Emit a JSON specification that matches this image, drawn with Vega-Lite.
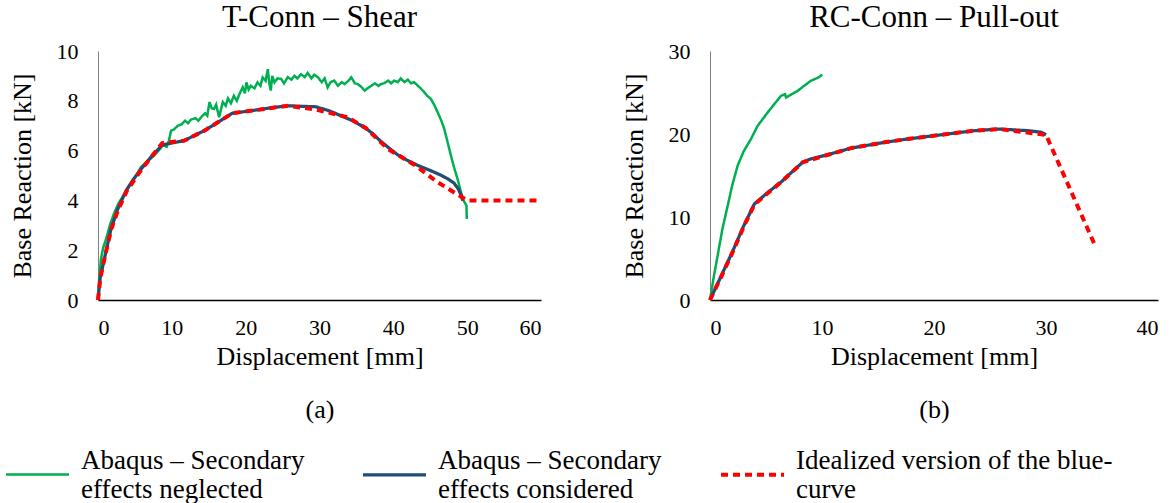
{
  "$schema": "https://vega.github.io/schema/vega-lite/v6.json",
  "padding": {"left": 4, "top": 2, "right": 5, "bottom": 0},
  "config": {
    "font": "Liberation Serif",
    "view": {"stroke": null},
    "axis": {"grid": false, "ticks": false, "labelFont": "Liberation Serif", "labelFontSize": 22, "labelColor": "#000", "titleFont": "Liberation Serif", "titleFontSize": 26, "titleFontWeight": "normal", "titleColor": "#000", "domainColor": "#000", "domainWidth": 1.5},
    "title": {"font": "Liberation Serif", "fontSize": 31, "fontWeight": "normal", "color": "#000", "frame": "group", "anchor": "middle"},
    "legend": {"orient": "none", "legendX": -94, "legendY": 390, "direction": "horizontal", "columns": 3, "title": null, "symbolType": "stroke", "symbolSize": 3969, "symbolStrokeWidth": 3, "labelFont": "Liberation Serif", "labelFontSize": 27, "labelColor": "#000", "labelOffset": 10, "labelBaseline": "bottom", "columnPadding": 51, "labelLimit": 500}
  },
  "data": {"values": [
    {"panel": "a", "series": "Abaqus – Secondary effects neglected", "x": 0, "y": 0},
    {"panel": "a", "series": "Abaqus – Secondary effects neglected", "x": 0.2, "y": 1.0},
    {"panel": "a", "series": "Abaqus – Secondary effects neglected", "x": 0.4, "y": 1.65},
    {"panel": "a", "series": "Abaqus – Secondary effects neglected", "x": 0.7, "y": 2.1},
    {"panel": "a", "series": "Abaqus – Secondary effects neglected", "x": 1.1, "y": 2.45},
    {"panel": "a", "series": "Abaqus – Secondary effects neglected", "x": 1.6, "y": 3.0},
    {"panel": "a", "series": "Abaqus – Secondary effects neglected", "x": 2.2, "y": 3.5},
    {"panel": "a", "series": "Abaqus – Secondary effects neglected", "x": 2.8, "y": 3.9},
    {"panel": "a", "series": "Abaqus – Secondary effects neglected", "x": 3.6, "y": 4.26},
    {"panel": "a", "series": "Abaqus – Secondary effects neglected", "x": 4.5, "y": 4.7},
    {"panel": "a", "series": "Abaqus – Secondary effects neglected", "x": 5.2, "y": 5.0},
    {"panel": "a", "series": "Abaqus – Secondary effects neglected", "x": 5.8, "y": 5.33},
    {"panel": "a", "series": "Abaqus – Secondary effects neglected", "x": 6.6, "y": 5.55},
    {"panel": "a", "series": "Abaqus – Secondary effects neglected", "x": 7.6, "y": 5.8},
    {"panel": "a", "series": "Abaqus – Secondary effects neglected", "x": 8.2, "y": 6.0},
    {"panel": "a", "series": "Abaqus – Secondary effects neglected", "x": 8.8, "y": 6.22},
    {"panel": "a", "series": "Abaqus – Secondary effects neglected", "x": 9.3, "y": 6.15},
    {"panel": "a", "series": "Abaqus – Secondary effects neglected", "x": 9.6, "y": 6.4},
    {"panel": "a", "series": "Abaqus – Secondary effects neglected", "x": 9.9, "y": 6.8},
    {"panel": "a", "series": "Abaqus – Secondary effects neglected", "x": 10.3, "y": 6.85},
    {"panel": "a", "series": "Abaqus – Secondary effects neglected", "x": 10.8, "y": 7.0},
    {"panel": "a", "series": "Abaqus – Secondary effects neglected", "x": 11.3, "y": 7.05},
    {"panel": "a", "series": "Abaqus – Secondary effects neglected", "x": 11.8, "y": 7.2},
    {"panel": "a", "series": "Abaqus – Secondary effects neglected", "x": 12.2, "y": 7.1},
    {"panel": "a", "series": "Abaqus – Secondary effects neglected", "x": 12.6, "y": 7.25},
    {"panel": "a", "series": "Abaqus – Secondary effects neglected", "x": 13.2, "y": 7.3},
    {"panel": "a", "series": "Abaqus – Secondary effects neglected", "x": 13.6, "y": 7.2},
    {"panel": "a", "series": "Abaqus – Secondary effects neglected", "x": 14.0, "y": 7.35},
    {"panel": "a", "series": "Abaqus – Secondary effects neglected", "x": 14.5, "y": 7.5},
    {"panel": "a", "series": "Abaqus – Secondary effects neglected", "x": 14.8, "y": 7.4},
    {"panel": "a", "series": "Abaqus – Secondary effects neglected", "x": 15.1, "y": 7.95},
    {"panel": "a", "series": "Abaqus – Secondary effects neglected", "x": 15.4, "y": 7.7},
    {"panel": "a", "series": "Abaqus – Secondary effects neglected", "x": 15.7, "y": 7.67},
    {"panel": "a", "series": "Abaqus – Secondary effects neglected", "x": 16.0, "y": 7.85},
    {"panel": "a", "series": "Abaqus – Secondary effects neglected", "x": 16.4, "y": 7.34},
    {"panel": "a", "series": "Abaqus – Secondary effects neglected", "x": 16.9, "y": 7.95},
    {"panel": "a", "series": "Abaqus – Secondary effects neglected", "x": 17.3, "y": 7.8},
    {"panel": "a", "series": "Abaqus – Secondary effects neglected", "x": 17.6, "y": 8.1},
    {"panel": "a", "series": "Abaqus – Secondary effects neglected", "x": 18.0, "y": 7.9},
    {"panel": "a", "series": "Abaqus – Secondary effects neglected", "x": 18.4, "y": 8.2},
    {"panel": "a", "series": "Abaqus – Secondary effects neglected", "x": 18.8, "y": 8.0},
    {"panel": "a", "series": "Abaqus – Secondary effects neglected", "x": 19.2, "y": 8.3},
    {"panel": "a", "series": "Abaqus – Secondary effects neglected", "x": 19.6, "y": 8.54},
    {"panel": "a", "series": "Abaqus – Secondary effects neglected", "x": 19.9, "y": 8.3},
    {"panel": "a", "series": "Abaqus – Secondary effects neglected", "x": 20.1, "y": 8.74},
    {"panel": "a", "series": "Abaqus – Secondary effects neglected", "x": 20.4, "y": 8.45},
    {"panel": "a", "series": "Abaqus – Secondary effects neglected", "x": 20.7, "y": 8.6},
    {"panel": "a", "series": "Abaqus – Secondary effects neglected", "x": 21.2, "y": 8.5},
    {"panel": "a", "series": "Abaqus – Secondary effects neglected", "x": 21.6, "y": 8.74},
    {"panel": "a", "series": "Abaqus – Secondary effects neglected", "x": 22.0, "y": 8.6},
    {"panel": "a", "series": "Abaqus – Secondary effects neglected", "x": 22.3, "y": 8.94},
    {"panel": "a", "series": "Abaqus – Secondary effects neglected", "x": 22.7, "y": 8.8},
    {"panel": "a", "series": "Abaqus – Secondary effects neglected", "x": 23.0, "y": 9.27},
    {"panel": "a", "series": "Abaqus – Secondary effects neglected", "x": 23.2, "y": 8.7},
    {"panel": "a", "series": "Abaqus – Secondary effects neglected", "x": 23.4, "y": 8.41},
    {"panel": "a", "series": "Abaqus – Secondary effects neglected", "x": 23.6, "y": 9.0},
    {"panel": "a", "series": "Abaqus – Secondary effects neglected", "x": 23.9, "y": 8.74},
    {"panel": "a", "series": "Abaqus – Secondary effects neglected", "x": 24.3, "y": 8.9},
    {"panel": "a", "series": "Abaqus – Secondary effects neglected", "x": 24.8, "y": 8.88},
    {"panel": "a", "series": "Abaqus – Secondary effects neglected", "x": 25.2, "y": 8.7},
    {"panel": "a", "series": "Abaqus – Secondary effects neglected", "x": 25.7, "y": 8.95},
    {"panel": "a", "series": "Abaqus – Secondary effects neglected", "x": 26.2, "y": 8.85},
    {"panel": "a", "series": "Abaqus – Secondary effects neglected", "x": 26.6, "y": 9.0},
    {"panel": "a", "series": "Abaqus – Secondary effects neglected", "x": 27.0, "y": 8.9},
    {"panel": "a", "series": "Abaqus – Secondary effects neglected", "x": 27.5, "y": 9.07},
    {"panel": "a", "series": "Abaqus – Secondary effects neglected", "x": 28.0, "y": 8.95},
    {"panel": "a", "series": "Abaqus – Secondary effects neglected", "x": 28.4, "y": 9.12},
    {"panel": "a", "series": "Abaqus – Secondary effects neglected", "x": 28.9, "y": 8.9},
    {"panel": "a", "series": "Abaqus – Secondary effects neglected", "x": 29.3, "y": 9.05},
    {"panel": "a", "series": "Abaqus – Secondary effects neglected", "x": 29.8, "y": 8.94},
    {"panel": "a", "series": "Abaqus – Secondary effects neglected", "x": 30.3, "y": 8.75},
    {"panel": "a", "series": "Abaqus – Secondary effects neglected", "x": 30.7, "y": 8.9},
    {"panel": "a", "series": "Abaqus – Secondary effects neglected", "x": 31.1, "y": 8.54},
    {"panel": "a", "series": "Abaqus – Secondary effects neglected", "x": 31.5, "y": 8.75},
    {"panel": "a", "series": "Abaqus – Secondary effects neglected", "x": 32.0, "y": 8.81},
    {"panel": "a", "series": "Abaqus – Secondary effects neglected", "x": 32.5, "y": 8.6},
    {"panel": "a", "series": "Abaqus – Secondary effects neglected", "x": 33.0, "y": 8.75},
    {"panel": "a", "series": "Abaqus – Secondary effects neglected", "x": 33.4, "y": 8.67},
    {"panel": "a", "series": "Abaqus – Secondary effects neglected", "x": 33.9, "y": 8.8},
    {"panel": "a", "series": "Abaqus – Secondary effects neglected", "x": 34.3, "y": 8.94},
    {"panel": "a", "series": "Abaqus – Secondary effects neglected", "x": 34.8, "y": 8.7},
    {"panel": "a", "series": "Abaqus – Secondary effects neglected", "x": 35.2, "y": 8.67},
    {"panel": "a", "series": "Abaqus – Secondary effects neglected", "x": 35.7, "y": 8.55},
    {"panel": "a", "series": "Abaqus – Secondary effects neglected", "x": 36.1, "y": 8.41},
    {"panel": "a", "series": "Abaqus – Secondary effects neglected", "x": 36.5, "y": 8.5},
    {"panel": "a", "series": "Abaqus – Secondary effects neglected", "x": 37.0, "y": 8.6},
    {"panel": "a", "series": "Abaqus – Secondary effects neglected", "x": 37.5, "y": 8.7},
    {"panel": "a", "series": "Abaqus – Secondary effects neglected", "x": 38.0, "y": 8.6},
    {"panel": "a", "series": "Abaqus – Secondary effects neglected", "x": 38.3, "y": 8.67},
    {"panel": "a", "series": "Abaqus – Secondary effects neglected", "x": 38.8, "y": 8.71},
    {"panel": "a", "series": "Abaqus – Secondary effects neglected", "x": 39.3, "y": 8.81},
    {"panel": "a", "series": "Abaqus – Secondary effects neglected", "x": 39.7, "y": 8.7},
    {"panel": "a", "series": "Abaqus – Secondary effects neglected", "x": 40.1, "y": 8.81},
    {"panel": "a", "series": "Abaqus – Secondary effects neglected", "x": 40.6, "y": 8.75},
    {"panel": "a", "series": "Abaqus – Secondary effects neglected", "x": 41.0, "y": 8.9},
    {"panel": "a", "series": "Abaqus – Secondary effects neglected", "x": 41.5, "y": 8.75},
    {"panel": "a", "series": "Abaqus – Secondary effects neglected", "x": 41.96, "y": 8.85},
    {"panel": "a", "series": "Abaqus – Secondary effects neglected", "x": 42.4, "y": 8.7},
    {"panel": "a", "series": "Abaqus – Secondary effects neglected", "x": 42.8, "y": 8.75},
    {"panel": "a", "series": "Abaqus – Secondary effects neglected", "x": 43.3, "y": 8.61},
    {"panel": "a", "series": "Abaqus – Secondary effects neglected", "x": 43.7, "y": 8.5},
    {"panel": "a", "series": "Abaqus – Secondary effects neglected", "x": 44.2, "y": 8.34},
    {"panel": "a", "series": "Abaqus – Secondary effects neglected", "x": 44.6, "y": 8.2},
    {"panel": "a", "series": "Abaqus – Secondary effects neglected", "x": 45.1, "y": 8.07},
    {"panel": "a", "series": "Abaqus – Secondary effects neglected", "x": 45.6, "y": 7.8},
    {"panel": "a", "series": "Abaqus – Secondary effects neglected", "x": 46.0, "y": 7.54},
    {"panel": "a", "series": "Abaqus – Secondary effects neglected", "x": 46.5, "y": 7.2},
    {"panel": "a", "series": "Abaqus – Secondary effects neglected", "x": 46.9, "y": 6.87},
    {"panel": "a", "series": "Abaqus – Secondary effects neglected", "x": 47.3, "y": 6.4},
    {"panel": "a", "series": "Abaqus – Secondary effects neglected", "x": 47.8, "y": 5.8},
    {"panel": "a", "series": "Abaqus – Secondary effects neglected", "x": 48.2, "y": 5.35},
    {"panel": "a", "series": "Abaqus – Secondary effects neglected", "x": 48.7, "y": 4.86},
    {"panel": "a", "series": "Abaqus – Secondary effects neglected", "x": 49.1, "y": 4.4},
    {"panel": "a", "series": "Abaqus – Secondary effects neglected", "x": 49.4, "y": 4.06},
    {"panel": "a", "series": "Abaqus – Secondary effects neglected", "x": 49.7, "y": 3.9},
    {"panel": "a", "series": "Abaqus – Secondary effects neglected", "x": 49.9, "y": 3.79},
    {"panel": "a", "series": "Abaqus – Secondary effects neglected", "x": 49.95, "y": 3.25},
    {"panel": "a", "series": "Abaqus – Secondary effects considered", "x": 0, "y": 0},
    {"panel": "a", "series": "Abaqus – Secondary effects considered", "x": 0.3, "y": 0.9},
    {"panel": "a", "series": "Abaqus – Secondary effects considered", "x": 0.86, "y": 1.65},
    {"panel": "a", "series": "Abaqus – Secondary effects considered", "x": 1.76, "y": 2.85},
    {"panel": "a", "series": "Abaqus – Secondary effects considered", "x": 2.67, "y": 3.65},
    {"panel": "a", "series": "Abaqus – Secondary effects considered", "x": 3.8, "y": 4.39},
    {"panel": "a", "series": "Abaqus – Secondary effects considered", "x": 4.8, "y": 4.85},
    {"panel": "a", "series": "Abaqus – Secondary effects considered", "x": 5.83, "y": 5.26},
    {"panel": "a", "series": "Abaqus – Secondary effects considered", "x": 7.2, "y": 5.75},
    {"panel": "a", "series": "Abaqus – Secondary effects considered", "x": 8.67, "y": 6.22},
    {"panel": "a", "series": "Abaqus – Secondary effects considered", "x": 9.9, "y": 6.3},
    {"panel": "a", "series": "Abaqus – Secondary effects considered", "x": 11.7, "y": 6.4},
    {"panel": "a", "series": "Abaqus – Secondary effects considered", "x": 13.0, "y": 6.6},
    {"panel": "a", "series": "Abaqus – Secondary effects considered", "x": 14.4, "y": 6.8},
    {"panel": "a", "series": "Abaqus – Secondary effects considered", "x": 16.3, "y": 7.15},
    {"panel": "a", "series": "Abaqus – Secondary effects considered", "x": 18.2, "y": 7.5},
    {"panel": "a", "series": "Abaqus – Secondary effects considered", "x": 20.7, "y": 7.6},
    {"panel": "a", "series": "Abaqus – Secondary effects considered", "x": 23.0, "y": 7.7},
    {"panel": "a", "series": "Abaqus – Secondary effects considered", "x": 25.7, "y": 7.8},
    {"panel": "a", "series": "Abaqus – Secondary effects considered", "x": 29.5, "y": 7.76},
    {"panel": "a", "series": "Abaqus – Secondary effects considered", "x": 31.3, "y": 7.6},
    {"panel": "a", "series": "Abaqus – Secondary effects considered", "x": 32.9, "y": 7.4},
    {"panel": "a", "series": "Abaqus – Secondary effects considered", "x": 34.5, "y": 7.2},
    {"panel": "a", "series": "Abaqus – Secondary effects considered", "x": 36.1, "y": 6.93},
    {"panel": "a", "series": "Abaqus – Secondary effects considered", "x": 37.0, "y": 6.73},
    {"panel": "a", "series": "Abaqus – Secondary effects considered", "x": 38.2, "y": 6.4},
    {"panel": "a", "series": "Abaqus – Secondary effects considered", "x": 39.3, "y": 6.13},
    {"panel": "a", "series": "Abaqus – Secondary effects considered", "x": 40.5, "y": 5.85},
    {"panel": "a", "series": "Abaqus – Secondary effects considered", "x": 41.96, "y": 5.6},
    {"panel": "a", "series": "Abaqus – Secondary effects considered", "x": 43.5, "y": 5.38},
    {"panel": "a", "series": "Abaqus – Secondary effects considered", "x": 45.1, "y": 5.19},
    {"panel": "a", "series": "Abaqus – Secondary effects considered", "x": 46.4, "y": 5.02},
    {"panel": "a", "series": "Abaqus – Secondary effects considered", "x": 47.4, "y": 4.86},
    {"panel": "a", "series": "Abaqus – Secondary effects considered", "x": 48.2, "y": 4.7},
    {"panel": "a", "series": "Abaqus – Secondary effects considered", "x": 48.8, "y": 4.46},
    {"panel": "a", "series": "Abaqus – Secondary effects considered", "x": 49.2, "y": 4.2},
    {"panel": "a", "series": "Abaqus – Secondary effects considered", "x": 49.4, "y": 3.99},
    {"panel": "a", "series": "Idealized version of the blue-curve", "x": 0, "y": 0},
    {"panel": "a", "series": "Idealized version of the blue-curve", "x": 0.3, "y": 0.85},
    {"panel": "a", "series": "Idealized version of the blue-curve", "x": 0.9, "y": 1.7},
    {"panel": "a", "series": "Idealized version of the blue-curve", "x": 1.8, "y": 2.85},
    {"panel": "a", "series": "Idealized version of the blue-curve", "x": 2.7, "y": 3.6},
    {"panel": "a", "series": "Idealized version of the blue-curve", "x": 3.9, "y": 4.38},
    {"panel": "a", "series": "Idealized version of the blue-curve", "x": 5.9, "y": 5.25},
    {"panel": "a", "series": "Idealized version of the blue-curve", "x": 8.7, "y": 6.3},
    {"panel": "a", "series": "Idealized version of the blue-curve", "x": 11.7, "y": 6.4},
    {"panel": "a", "series": "Idealized version of the blue-curve", "x": 14.4, "y": 6.8},
    {"panel": "a", "series": "Idealized version of the blue-curve", "x": 18.2, "y": 7.5},
    {"panel": "a", "series": "Idealized version of the blue-curve", "x": 25.7, "y": 7.8},
    {"panel": "a", "series": "Idealized version of the blue-curve", "x": 29.5, "y": 7.65},
    {"panel": "a", "series": "Idealized version of the blue-curve", "x": 33.8, "y": 7.34},
    {"panel": "a", "series": "Idealized version of the blue-curve", "x": 36.3, "y": 6.9},
    {"panel": "a", "series": "Idealized version of the blue-curve", "x": 39.3, "y": 6.06},
    {"panel": "a", "series": "Idealized version of the blue-curve", "x": 42.9, "y": 5.42},
    {"panel": "a", "series": "Idealized version of the blue-curve", "x": 46.0, "y": 4.73},
    {"panel": "a", "series": "Idealized version of the blue-curve", "x": 50, "y": 4.0},
    {"panel": "a", "series": "Idealized version of the blue-curve", "x": 60, "y": 4.0},
    {"panel": "b", "series": "Abaqus – Secondary effects neglected", "x": 0, "y": 0},
    {"panel": "b", "series": "Abaqus – Secondary effects neglected", "x": 0.3, "y": 2.5},
    {"panel": "b", "series": "Abaqus – Secondary effects neglected", "x": 0.68, "y": 5.34},
    {"panel": "b", "series": "Abaqus – Secondary effects neglected", "x": 1.1, "y": 8.5},
    {"panel": "b", "series": "Abaqus – Secondary effects neglected", "x": 1.58, "y": 11.36},
    {"panel": "b", "series": "Abaqus – Secondary effects neglected", "x": 2.0, "y": 13.9},
    {"panel": "b", "series": "Abaqus – Secondary effects neglected", "x": 2.47, "y": 16.2},
    {"panel": "b", "series": "Abaqus – Secondary effects neglected", "x": 3.0, "y": 17.9},
    {"panel": "b", "series": "Abaqus – Secondary effects neglected", "x": 3.66, "y": 19.4},
    {"panel": "b", "series": "Abaqus – Secondary effects neglected", "x": 4.26, "y": 21.0},
    {"panel": "b", "series": "Abaqus – Secondary effects neglected", "x": 5.15, "y": 22.6},
    {"panel": "b", "series": "Abaqus – Secondary effects neglected", "x": 5.8, "y": 23.7},
    {"panel": "b", "series": "Abaqus – Secondary effects neglected", "x": 6.34, "y": 24.6},
    {"panel": "b", "series": "Abaqus – Secondary effects neglected", "x": 6.7, "y": 24.8},
    {"panel": "b", "series": "Abaqus – Secondary effects neglected", "x": 6.79, "y": 24.4},
    {"panel": "b", "series": "Abaqus – Secondary effects neglected", "x": 7.3, "y": 24.8},
    {"panel": "b", "series": "Abaqus – Secondary effects neglected", "x": 7.83, "y": 25.2},
    {"panel": "b", "series": "Abaqus – Secondary effects neglected", "x": 8.4, "y": 25.8},
    {"panel": "b", "series": "Abaqus – Secondary effects neglected", "x": 9.0, "y": 26.4},
    {"panel": "b", "series": "Abaqus – Secondary effects neglected", "x": 9.5, "y": 26.7},
    {"panel": "b", "series": "Abaqus – Secondary effects neglected", "x": 9.9, "y": 27.0},
    {"panel": "b", "series": "Abaqus – Secondary effects neglected", "x": 10.0, "y": 27.2},
    {"panel": "b", "series": "Abaqus – Secondary effects considered", "x": 0, "y": 0},
    {"panel": "b", "series": "Abaqus – Secondary effects considered", "x": 1, "y": 2.9},
    {"panel": "b", "series": "Abaqus – Secondary effects considered", "x": 2, "y": 5.8},
    {"panel": "b", "series": "Abaqus – Secondary effects considered", "x": 3, "y": 8.9},
    {"panel": "b", "series": "Abaqus – Secondary effects considered", "x": 3.96, "y": 11.57},
    {"panel": "b", "series": "Abaqus – Secondary effects considered", "x": 5.2, "y": 13.0},
    {"panel": "b", "series": "Abaqus – Secondary effects considered", "x": 6.34, "y": 14.2},
    {"panel": "b", "series": "Abaqus – Secondary effects considered", "x": 7.3, "y": 15.4},
    {"panel": "b", "series": "Abaqus – Secondary effects considered", "x": 8.28, "y": 16.6},
    {"panel": "b", "series": "Abaqus – Secondary effects considered", "x": 9.0, "y": 17.0},
    {"panel": "b", "series": "Abaqus – Secondary effects considered", "x": 10.5, "y": 17.5},
    {"panel": "b", "series": "Abaqus – Secondary effects considered", "x": 12.6, "y": 18.3},
    {"panel": "b", "series": "Abaqus – Secondary effects considered", "x": 15.6, "y": 19.0},
    {"panel": "b", "series": "Abaqus – Secondary effects considered", "x": 17.65, "y": 19.4},
    {"panel": "b", "series": "Abaqus – Secondary effects considered", "x": 20.6, "y": 19.9},
    {"panel": "b", "series": "Abaqus – Secondary effects considered", "x": 23.6, "y": 20.4},
    {"panel": "b", "series": "Abaqus – Secondary effects considered", "x": 25.8, "y": 20.6},
    {"panel": "b", "series": "Abaqus – Secondary effects considered", "x": 28.4, "y": 20.4},
    {"panel": "b", "series": "Abaqus – Secondary effects considered", "x": 29.6, "y": 20.2},
    {"panel": "b", "series": "Abaqus – Secondary effects considered", "x": 30.0, "y": 19.9},
    {"panel": "b", "series": "Idealized version of the blue-curve", "x": 0, "y": 0},
    {"panel": "b", "series": "Idealized version of the blue-curve", "x": 1, "y": 2.8},
    {"panel": "b", "series": "Idealized version of the blue-curve", "x": 2, "y": 5.7},
    {"panel": "b", "series": "Idealized version of the blue-curve", "x": 3, "y": 8.8},
    {"panel": "b", "series": "Idealized version of the blue-curve", "x": 3.96, "y": 11.5},
    {"panel": "b", "series": "Idealized version of the blue-curve", "x": 6.34, "y": 14.2},
    {"panel": "b", "series": "Idealized version of the blue-curve", "x": 8.28, "y": 16.6},
    {"panel": "b", "series": "Idealized version of the blue-curve", "x": 12.6, "y": 18.3},
    {"panel": "b", "series": "Idealized version of the blue-curve", "x": 15.6, "y": 19.0},
    {"panel": "b", "series": "Idealized version of the blue-curve", "x": 17.65, "y": 19.4},
    {"panel": "b", "series": "Idealized version of the blue-curve", "x": 20.6, "y": 19.9},
    {"panel": "b", "series": "Idealized version of the blue-curve", "x": 23.6, "y": 20.4},
    {"panel": "b", "series": "Idealized version of the blue-curve", "x": 25.8, "y": 20.6},
    {"panel": "b", "series": "Idealized version of the blue-curve", "x": 30.0, "y": 19.9},
    {"panel": "b", "series": "Idealized version of the blue-curve", "x": 34.4, "y": 6.5}
  ]},
  "hconcat": [
    {
      "width": 443,
      "height": 249,
      "title": {"text": "T-Conn – Shear", "offset": 6},
      "transform": [{"filter": "datum.panel == 'a'"}],
      "mark": {"type": "line", "strokeCap": "butt"},
      "encoding": {
        "x": {"field": "x", "type": "quantitative", "scale": {"domain": [0, 60], "nice": false}, "axis": {"values": [0, 10, 20, 30, 40, 50, 60], "title": ["Displacement [mm]", "(a)"], "titleLineHeight": 53, "labelPadding": 17, "titlePadding": 5}},
        "y": {"field": "y", "type": "quantitative", "scale": {"domain": [0, 10], "nice": false}, "axis": {"values": [0, 2, 4, 6, 8, 10], "title": "Base Reaction [kN]", "labelPadding": 20, "titlePadding": 21, "domainColor": "#808080", "domainWidth": 1}},
        "color": {"field": "series", "type": "nominal", "sort": null, "scale": {"domain": ["Abaqus – Secondary effects neglected", "Abaqus – Secondary effects considered", "Idealized version of the blue-curve"], "range": ["#00B050", "#1F4E79", "#FF0000"]}, "legend": {"labelExpr": "datum.label == 'Abaqus – Secondary effects neglected' ? ['Abaqus – Secondary', 'effects neglected'] : datum.label == 'Abaqus – Secondary effects considered' ? ['Abaqus – Secondary', 'effects considered'] : ['Idealized version of the blue-', 'curve']"}},
        "strokeDash": {"field": "series", "type": "nominal", "sort": null, "scale": {"domain": ["Abaqus – Secondary effects neglected", "Abaqus – Secondary effects considered", "Idealized version of the blue-curve"], "range": [[1, 0], [1, 0], [7, 5]]}, "legend": {"labelExpr": "datum.label == 'Abaqus – Secondary effects neglected' ? ['Abaqus – Secondary', 'effects neglected'] : datum.label == 'Abaqus – Secondary effects considered' ? ['Abaqus – Secondary', 'effects considered'] : ['Idealized version of the blue-', 'curve']"}},
        "strokeWidth": {"field": "series", "type": "nominal", "sort": null, "scale": {"domain": ["Abaqus – Secondary effects neglected", "Abaqus – Secondary effects considered", "Idealized version of the blue-curve"], "range": [2.5, 4, 2]}, "legend": null}
      }
    },
    {
      "width": 448,
      "height": 249,
      "title": {"text": "RC-Conn – Pull-out", "offset": 6},
      "transform": [{"filter": "datum.panel == 'b'"}],
      "mark": {"type": "line", "strokeCap": "butt"},
      "encoding": {
        "x": {"field": "x", "type": "quantitative", "scale": {"domain": [0, 40], "nice": false}, "axis": {"values": [0, 10, 20, 30, 40], "title": ["Displacement [mm]", "(b)"], "titleLineHeight": 53, "labelPadding": 17, "titlePadding": 5}},
        "y": {"field": "y", "type": "quantitative", "scale": {"domain": [0, 30], "nice": false}, "axis": {"values": [0, 10, 20, 30], "title": "Base Reaction [kN]", "labelPadding": 20, "titlePadding": 21, "domainColor": "#808080", "domainWidth": 1}},
        "color": {"field": "series", "type": "nominal", "sort": null, "scale": {"domain": ["Abaqus – Secondary effects neglected", "Abaqus – Secondary effects considered", "Idealized version of the blue-curve"], "range": ["#00B050", "#1F4E79", "#FF0000"]}, "legend": {"labelExpr": "datum.label == 'Abaqus – Secondary effects neglected' ? ['Abaqus – Secondary', 'effects neglected'] : datum.label == 'Abaqus – Secondary effects considered' ? ['Abaqus – Secondary', 'effects considered'] : ['Idealized version of the blue-', 'curve']"}},
        "strokeDash": {"field": "series", "type": "nominal", "sort": null, "scale": {"domain": ["Abaqus – Secondary effects neglected", "Abaqus – Secondary effects considered", "Idealized version of the blue-curve"], "range": [[1, 0], [1, 0], [7, 5]]}, "legend": {"labelExpr": "datum.label == 'Abaqus – Secondary effects neglected' ? ['Abaqus – Secondary', 'effects neglected'] : datum.label == 'Abaqus – Secondary effects considered' ? ['Abaqus – Secondary', 'effects considered'] : ['Idealized version of the blue-', 'curve']"}},
        "strokeWidth": {"field": "series", "type": "nominal", "sort": null, "scale": {"domain": ["Abaqus – Secondary effects neglected", "Abaqus – Secondary effects considered", "Idealized version of the blue-curve"], "range": [2.5, 4, 2]}, "legend": null}
      }
    }
  ],
  "spacing": 72,
  "resolve": {"scale": {"x": "independent", "y": "independent", "color": "shared", "strokeDash": "shared", "strokeWidth": "shared"}}
}
